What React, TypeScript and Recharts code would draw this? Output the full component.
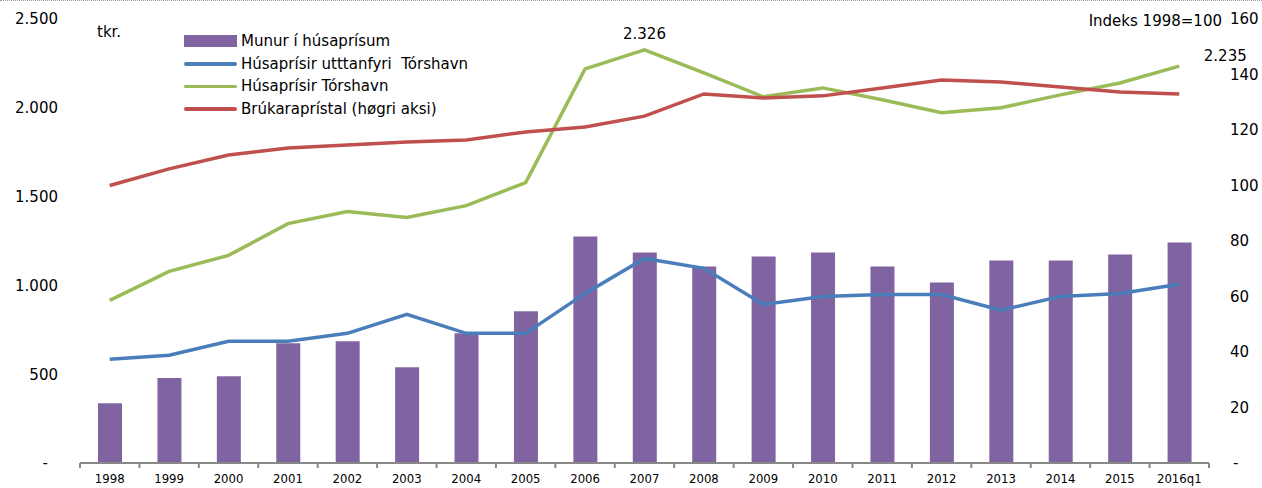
import {
  Bar,
  ComposedChart,
  LabelList,
  Line,
  XAxis,
  YAxis,
} from "recharts";

const years = [
  "1998", "1999", "2000", "2001", "2002", "2003", "2004", "2005", "2006", "2007",
  "2008", "2009", "2010", "2011", "2012", "2013", "2014", "2015", "2016q1",
];

// tkr., left axis
const munur = [
  337, 478, 489, 674, 685, 539, 730, 854, 1275, 1185,
  1107, 1163, 1185, 1107, 1017, 1140, 1140, 1174, 1242,
];
const uttanfyri = [
  584, 607, 685, 685, 730, 837, 730, 730, 955, 1152,
  1096, 893, 938, 949, 949, 860, 938, 955, 1006,
];
const torshavn = [
  916, 1079, 1169, 1348, 1416, 1382, 1449, 1579, 2219, 2326,
  2197, 2062, 2112, 2045, 1972, 2000, 2073, 2140, 2235,
];
// index 1998=100, right axis
const brukarapris = [
  100, 106, 111, 113.5, 114.6, 115.7, 116.4, 119.3, 121.1, 125,
  133, 131.5, 132.3, 135.1, 138, 137.3, 135.5, 133.7, 133,
];

const leftTicks = [0, 500, 1000, 1500, 2000, 2500];
const rightTicks = [0, 20, 40, 60, 80, 100, 120, 140, 160];

const PURPLE = "#8064A2";
const BLUE = "#4A7EBB";
const GREEN = "#9BBB59";
const RED = "#C0504D";
const FONT = "'DejaVu Sans', Verdana, sans-serif";
const FONT_X = "'DejaVu Sans Condensed', 'DejaVu Sans', sans-serif";

const legendItems = [
  { name: "Munur í húsaprísum", color: PURPLE, bar: true },
  { name: "Húsaprísir utttanfyri  Tórshavn", color: BLUE, bar: false },
  { name: "Húsaprísir Tórshavn", color: GREEN, bar: false },
  { name: "Brúkaraprístal (høgri aksi)", color: RED, bar: false },
];

const data = years.map((year, i) => ({
  year,
  munur: munur[i],
  uttanfyri: uttanfyri[i],
  torshavn: torshavn[i],
  brukarapris: brukarapris[i],
}));

const fmt = (v: number) =>
  v === 0 ? "-" : String(Math.round(v)).replace(/\B(?=(\d{3})+(?!\d))/g, ".");

function LeftTick(props: any) {
  const { x, y, payload } = props;
  const zero = payload.value === 0;
  return (
    <text
      x={zero ? x - 10 : x}
      y={y}
      dy="0.36em"
      textAnchor="end"
      fontSize={15}
      fontFamily={FONT}
      fill="#000"
    >
      {fmt(payload.value)}
    </text>
  );
}

function RightTick(props: any) {
  const { x, y, payload } = props;
  const zero = payload.value === 0;
  return (
    <text
      x={zero ? x + 3 : x}
      y={y}
      dy="0.36em"
      textAnchor="start"
      fontSize={15}
      fontFamily={FONT}
      fill="#000"
    >
      {fmt(payload.value)}
    </text>
  );
}

function XTick(props: any) {
  const { x, y, payload, index, visibleTicksCount } = props;
  const half = payload.offset ?? 29.7;
  return (
    <g>
      <line x1={x - half} x2={x - half} y1={y} y2={y + 5} stroke="#888" strokeWidth={2} />
      {index === visibleTicksCount - 1 && (
        <line x1={x + half} x2={x + half} y1={y} y2={y + 5} stroke="#888" strokeWidth={2} />
      )}
      <text x={x} y={y + 20} textAnchor="middle" fontSize={13} fontFamily={FONT_X} fill="#000">
        {payload.value}
      </text>
    </g>
  );
}

function EndLabel(props: any) {
  const { x, y, index, value } = props;
  if (index === 9) {
    return (
      <text x={x} y={y - 16} dy="0.36em" textAnchor="middle" fontSize={15} fontFamily={FONT} fill="#000">
        {fmt(value)}
      </text>
    );
  }
  if (index === years.length - 1) {
    return (
      <text x={x + 46} y={y - 10} dy="0.36em" textAnchor="middle" fontSize={15} fontFamily={FONT} fill="#000">
        {fmt(value)}
      </text>
    );
  }
  return null;
}

function ChartLegend() {
  return (
    <div
      style={{
        position: "absolute",
        left: 184,
        top: 29,
        fontFamily: FONT,
        fontSize: 15,
        color: "#000",
      }}
    >
      {legendItems.map((it) => (
        <div key={it.name} style={{ display: "flex", alignItems: "center", height: 22.5 }}>
          <div
            style={{
              width: 53,
              height: it.bar ? 12 : 3.5,
              background: it.color,
              borderRadius: it.bar ? 0 : 2,
              marginRight: 4,
            }}
          />
          <span style={{ whiteSpace: "pre" }}>{it.name}</span>
        </div>
      ))}
    </div>
  );
}

export default function App() {
  return (
    <div
      style={{
        position: "fixed",
        left: 0,
        top: 0,
        width: 1262,
        height: 488,
        background: "#fff",
        borderTop: "1px dotted #999",
        boxSizing: "border-box",
      }}
    >
      <ComposedChart
        width={1262}
        height={487}
        data={data}
        margin={{ top: 18, right: 0, left: 0, bottom: 0 }}
        barSize={24}
      >
        <XAxis
          dataKey="year"
          height={25}
          axisLine={{ stroke: "#888", strokeWidth: 2 }}
          tickLine={false}
          tickSize={0}
          tickMargin={0}
          interval={0}
          tick={<XTick />}
        />
        <YAxis
          yAxisId="left"
          width={80}
          domain={[0, 2500]}
          ticks={leftTicks}
          axisLine={false}
          tickLine={false}
          tickSize={0}
          tickMargin={22}
          tick={<LeftTick />}
        />
        <YAxis
          yAxisId="right"
          orientation="right"
          width={53}
          domain={[0, 160]}
          ticks={rightTicks}
          axisLine={false}
          tickLine={false}
          tickSize={0}
          tickMargin={21}
          tick={<RightTick />}
        />
        <Bar yAxisId="left" dataKey="munur" fill={PURPLE} isAnimationActive={false} />
        <Line
          yAxisId="left"
          dataKey="uttanfyri"
          stroke={BLUE}
          strokeWidth={3.5}
          dot={false}
          isAnimationActive={false}
        />
        <Line
          yAxisId="left"
          dataKey="torshavn"
          stroke={GREEN}
          strokeWidth={3.5}
          dot={false}
          isAnimationActive={false}
        >
          <LabelList dataKey="torshavn" content={<EndLabel />} />
        </Line>
        <Line
          yAxisId="right"
          dataKey="brukarapris"
          stroke={RED}
          strokeWidth={3.5}
          dot={false}
          isAnimationActive={false}
        />
      </ComposedChart>
      <ChartLegend />
      <div
        style={{
          position: "absolute",
          left: 97,
          top: 22,
          fontFamily: FONT,
          fontSize: 15,
        }}
      >
        tkr.
      </div>
      <div
        style={{
          position: "absolute",
          right: 40,
          top: 11,
          fontFamily: FONT,
          fontSize: 15,
        }}
      >
        Indeks 1998=100
      </div>
    </div>
  );
}
